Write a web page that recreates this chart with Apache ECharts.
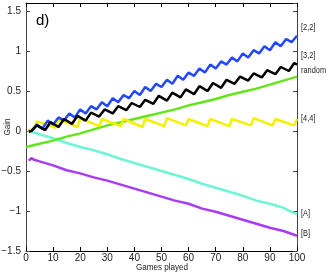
<!DOCTYPE html>
<html><head><meta charset="utf-8">
<script src="https://cdn.jsdelivr.net/npm/echarts@6/dist/echarts.min.js"></script>
<style>html,body{margin:0;padding:0;background:#fff}#c{width:327px;height:273px}</style>
</head><body><div id="c"></div>
<script>
// [game, gain] pairs
const blue22 = [[2,0.00],[4,0.08],[6,0.03],[8,0.13],[10,0.08],[12,0.17],[14,0.13],[16,0.22],[18,0.17],[20,0.27],[22,0.22],[24,0.31],[26,0.27],[28,0.36],[30,0.31],[32,0.41],[34,0.36],[36,0.45],[38,0.41],[40,0.50],[42,0.45],[44,0.55],[46,0.50],[48,0.59],[50,0.55],[52,0.64],[54,0.59],[56,0.69],[58,0.64],[60,0.73],[62,0.69],[64,0.78],[66,0.73],[68,0.83],[70,0.78],[72,0.87],[74,0.83],[76,0.92],[78,0.87],[80,0.97],[82,0.92],[84,1.01],[86,0.97],[88,1.06],[90,1.01],[92,1.11],[94,1.06],[96,1.15],[98,1.11],[100,1.19]];
const black32 = [[1,-0.01],[2,0.00],[4,0.07],[7,0.01],[9,0.11],[12,0.05],[14,0.15],[17,0.09],[19,0.19],[22,0.13],[24,0.23],[27,0.18],[29,0.27],[32,0.22],[34,0.31],[37,0.26],[39,0.35],[42,0.30],[44,0.39],[47,0.34],[49,0.44],[52,0.38],[54,0.48],[57,0.42],[59,0.52],[62,0.46],[64,0.56],[67,0.50],[69,0.60],[72,0.54],[74,0.64],[77,0.59],[79,0.68],[82,0.63],[84,0.72],[87,0.67],[89,0.76],[92,0.71],[94,0.80],[97,0.75],[99,0.85],[100,0.83]];
const randomG = [[0,-0.20],[5,-0.16],[10,-0.12],[15,-0.07],[20,-0.03],[25,0.02],[30,0.07],[35,0.11],[40,0.15],[45,0.19],[50,0.23],[55,0.27],[60,0.32],[65,0.36],[70,0.40],[75,0.45],[80,0.49],[85,0.53],[90,0.58],[95,0.63],[100,0.68]];
const yellow44 = [[0.5,0.00],[3,0.03],[4,0.12],[11,0.04],[12,0.15],[19,0.05],[20,0.16],[27,0.06],[28,0.15],[35,0.06],[36,0.15],[43,0.05],[44,0.15],[51,0.06],[52,0.16],[59,0.07],[60,0.15],[67,0.06],[68,0.15],[75,0.06],[76,0.15],[83,0.07],[84,0.16],[91,0.07],[92,0.15],[99,0.07],[100,0.15]];
const cyanA = [[2,-0.01],[5,-0.04],[10,-0.09],[15,-0.15],[20,-0.20],[25,-0.24],[30,-0.29],[35,-0.35],[40,-0.40],[45,-0.45],[50,-0.50],[55,-0.55],[60,-0.60],[65,-0.66],[70,-0.71],[75,-0.76],[80,-0.81],[85,-0.87],[90,-0.91],[95,-0.96],[98,-1.01],[100,-1.04]];
const purpleB = [[1,-0.37],[2,-0.34],[3,-0.36],[5,-0.38],[10,-0.43],[15,-0.49],[20,-0.53],[25,-0.58],[30,-0.62],[35,-0.67],[40,-0.72],[45,-0.77],[50,-0.82],[55,-0.87],[60,-0.91],[65,-0.97],[70,-1.01],[75,-1.06],[80,-1.11],[85,-1.16],[90,-1.21],[95,-1.25],[100,-1.31]];
const sideLabels = ['[2,2]','[3,2]','random','[4,4]','[A]','[B]'];
const sideLabelY = [1.29,0.94,0.75,0.16,-1.03,-1.28];
const xTickStep = 10, yTickStep = 0.5;

const chart = echarts.init(document.getElementById('c'), null, {renderer:'canvas'});
const FONT = '"Liberation Sans", Arial, sans-serif';
const mk = (data, color) => ({type:'line', data, showSymbol:false, symbol:'none', lineStyle:{color, width:2.5}, itemStyle:{color}, silent:true, z:3});
const axisCommon = {min:0, max:100, interval:xTickStep};
chart.setOption({
  animation:false,
  grid:{left:26, right:30, top:3, bottom:22, show:false, containLabel:false, outerBoundsMode:'none'},
  xAxis:[
    Object.assign({type:'value', position:'bottom', axisLine:{show:true, onZero:false, lineStyle:{color:'#000', width:1}}, axisTick:{show:true, inside:true, length:4, lineStyle:{color:'#000'}}, axisLabel:{color:'#222', fontSize:10, fontFamily:FONT, margin:2}, splitLine:{show:false}}, axisCommon),
    Object.assign({type:'value', position:'top', axisLine:{show:true, onZero:false, lineStyle:{color:'#000', width:1}}, axisTick:{show:true, inside:true, length:4, lineStyle:{color:'#000'}}, axisLabel:{show:false}, splitLine:{show:false}}, axisCommon)
  ],
  yAxis:[
    {type:'value', position:'left', min:-1.5, max:1.6, interval:yTickStep, axisLine:{show:true, onZero:false, lineStyle:{color:'#444', width:1}}, axisTick:{show:true, inside:true, length:4, lineStyle:{color:'#444'}},
     axisLabel:{color:'#222', fontSize:10, fontFamily:FONT, margin:5, showMaxLabel:false, formatter:v=>{ if (Math.abs(v/yTickStep - Math.round(v/yTickStep))>1e-6) return ''; return (v<0?'\u2212':'') + String(Math.abs(+v.toFixed(2)));}}, splitLine:{show:false}},
    {type:'value', position:'right', min:-1.5, max:1.6, interval:yTickStep, axisLine:{show:true, onZero:false, lineStyle:{color:'#444', width:1}}, axisTick:{show:true, inside:true, length:4, lineStyle:{color:'#444'}}, axisLabel:{show:false}, splitLine:{show:false}}
  ],
  series:[
    mk(purpleB,'#a93bf5'),
    mk(cyanA,'#6ff5d6'),
    mk(randomG,'#62e61a'),
    mk(yellow44,'#f2f200'),
    mk(blue22,'#2448ff'),
    mk(black32,'#000000')
  ]
});
const gfx = [
  {type:'text', left:36, top:13, style:{text:'d)', font:'15px '+FONT, fill:'#000'}},
  {type:'text', x:162, y:268, scaleX:0.9, style:{text:'Games played', font:'9px '+FONT, fill:'#222', align:'center', verticalAlign:'middle'}},
  {type:'text', x:8, y:127, rotation:Math.PI/2, scaleX:0.9, style:{text:'Gain', font:'9px '+FONT, fill:'#222', align:'center', verticalAlign:'middle'}}
];
sideLabels.forEach((t,i)=>{
  const p = chart.convertToPixel({xAxisIndex:0, yAxisIndex:0}, [100, sideLabelY[i]]);
  gfx.push({type:'text', x:p[0]+4, y:p[1], scaleX:0.82, style:{text:t, font:'9px '+FONT, fill:'#222', verticalAlign:'middle'}});
});
chart.setOption({graphic:gfx});
</script></body></html>
